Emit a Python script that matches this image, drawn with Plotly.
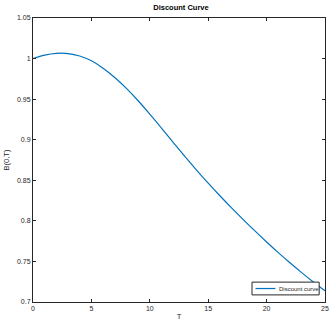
import plotly.graph_objects as go

T = [0, 1, 2, 3, 4, 5, 6, 7, 8, 9, 10, 11, 12, 13, 14, 15, 16, 17, 18, 19, 20, 21, 22, 23, 24, 25]
B = [1.0000, 1.0042, 1.0064, 1.0062, 1.0032, 0.9972, 0.9882, 0.9767, 0.9632, 0.9480, 0.9315, 0.9143,
     0.8968, 0.8794, 0.8626, 0.8464, 0.8309, 0.8160, 0.8016, 0.7876, 0.7740, 0.7609, 0.7483, 0.7362,
     0.7247, 0.7138]
x_ticks = [0, 5, 10, 15, 20, 25]
y_ticks = [0.7, 0.75, 0.8, 0.85, 0.9, 0.95, 1.0, 1.05]
y_tick_labels = ["0.7", "0.75", "0.8", "0.85", "0.9", "0.95", "1", "1.05"]
series_name = "Discount curve"
line_color = "#0072BD"

fig = go.Figure()
fig.add_trace(go.Scatter(x=T, y=B, mode="lines", name=series_name, showlegend=False,
                         line=dict(color=line_color, width=1.2, shape="spline")))

axis_common = dict(showline=True, linecolor="#262626", linewidth=1, mirror="ticks",
                   ticks="inside", ticklen=3, tickcolor="#262626", showgrid=False,
                   zeroline=False, ticklabeloverflow="allow",
                   tickfont=dict(size=7, color="#262626", family="Liberation Sans, Arial, sans-serif"))

# compact MATLAB-style legend box (bottom-right of the axes)
fig.add_shape(type="rect", xref="x domain", yref="y domain", x0=0.75, x1=0.98, y0=0.025, y1=0.07,
              line=dict(color="#262626", width=1), fillcolor="white", layer="above")
fig.add_shape(type="line", xref="x domain", yref="y domain", x0=0.762, x1=0.83, y0=0.0475, y1=0.0475,
              line=dict(color=line_color, width=1.2), layer="above")
fig.add_annotation(xref="x domain", yref="y domain", x=0.836, y=0.0475, xanchor="left", yanchor="middle",
                   text=series_name, showarrow=False,
                   font=dict(size=6, color="#262626", family="Liberation Sans, Arial, sans-serif"))

fig.update_layout(
    width=332, height=323,
    margin=dict(l=33, r=3, t=18, b=20),
    paper_bgcolor="white", plot_bgcolor="white",
    font=dict(family="Liberation Sans, Arial, sans-serif", color="#262626"),
    title=dict(text="<b>Discount Curve</b>", x=0.545, xanchor="center", y=0.985, yanchor="top",
               font=dict(size=7.5, color="black")),
    xaxis=dict(range=[0, 25], tickvals=x_ticks, title=dict(text="T", font=dict(size=7.5), standoff=2),
               **axis_common),
    yaxis=dict(range=[0.7, 1.05], tickvals=y_ticks, ticktext=y_tick_labels,
               title=dict(text="B(0,T)", font=dict(size=7.5), standoff=6), **axis_common),
    showlegend=False,
)

fig.write_html("out.html", config={"displayModeBar": False},
               post_script="document.body.style.margin='0';document.body.style.overflow='hidden';")
